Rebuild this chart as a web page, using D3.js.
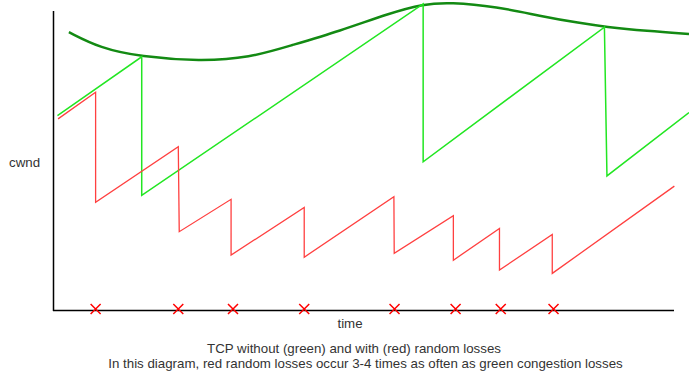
<!DOCTYPE html>
<html>
<head>
	<meta charset="utf-8">
	<title>TCP cwnd with random losses</title>
	<script src="https://d3js.org/d3.v7.min.js"></script>
	<style>
		body { margin: 0; background: #fff; }
		text { font-family: 'Liberation Sans', Arial, sans-serif; font-size: 13.3px; fill: #333; }
	</style>
</head>
<body>
	<div class="chart"></div>

	<script type="text/javascript">
		// time 0..100, cwnd 0..100 (arbitrary units)
		var greenTime = [0.7, 13.95, 13.95, 58.2, 58.2, 86.7, 87.1, 100]
		var greenCwnd = [64.8, 84.4, 38.2, 102, 49.4, 94.3, 44.7, 65.8]

		var redTime = [0.8, 6.7, 6.7, 19.7, 19.85, 28.0, 28.0, 39.5, 39.5, 53.6, 53.65, 62.95, 62.95, 70.2, 70.2, 78.5, 78.5, 97.7]
		var redCwnd = [63.7, 72.6, 35.9, 54.4, 26.1, 36.9, 18.3, 34.2, 17.6, 37.8, 18.9, 31.4, 16.6, 27.2, 13.3, 25.2, 12.2, 41.3]

		// random loss events
		var lossTime = [6.7, 19.7, 28.3, 39.5, 53.7, 63.3, 70.4, 78.7]

		// envelope of the green congestion peaks
		var envTime = [2.5, 7.4, 13.8, 23.1, 31.0, 37.3, 45.1, 53.0, 58.2, 62.4, 69.8, 76.6, 82.9, 86.8, 93.4, 100]
		var envCwnd = [92.6, 87.3, 84.4, 82.9, 84.1, 88.1, 93.0, 99.0, 102, 102.6, 101.1, 98, 95.6, 94.4, 93, 92]

		var captions = [
			'TCP without (green) and with (red) random losses',
			'In this diagram, red random losses occur 3-4 times as often as green congestion losses'
		]

		var width = 689
		var height = 378

		var svg = d3.select('.chart')
			.append('svg')
			.attr('width', width)
			.attr('height', height)

		var x = d3.scaleLinear().domain([0, 100]).range([53, 689])
		var y = d3.scaleLinear().domain([0, 100]).range([310, 10])

		var line = d3.line()
			.x((d) => x(d[0]))
			.y((d) => y(d[1]))

		var curve = d3.line()
			.x((d) => x(d[0]))
			.y((d) => y(d[1]))
			.curve(d3.curveBasis)

		// axes
		svg.append('line')
			.attr('x1', 53.5).attr('x2', 53.5)
			.attr('y1', 11).attr('y2', 311)
			.attr('stroke', '#000').attr('stroke-width', 1.5)
		svg.append('line')
			.attr('x1', 53).attr('x2', 674)
			.attr('y1', 310.5).attr('y2', 310.5)
			.attr('stroke', '#000').attr('stroke-width', 1.5)

		// envelope curve
		svg.append('path')
			.attr('fill', 'none')
			.attr('stroke', '#138a13')
			.attr('stroke-width', 2.5)
			.attr('d', curve(d3.zip(envTime, envCwnd)))

		// green sawtooth
		svg.append('path')
			.attr('fill', 'none')
			.attr('stroke', '#22e622')
			.attr('stroke-width', 1.5)
			.attr('d', line(d3.zip(greenTime, greenCwnd)))

		// red sawtooth
		svg.append('path')
			.attr('fill', 'none')
			.attr('stroke', '#ff4040')
			.attr('stroke-width', 1.3)
			.attr('d', line(d3.zip(redTime, redCwnd)))

		// loss marks
		var s = 5
		svg.selectAll('.loss')
			.data(lossTime)
			.enter()
			.append('path')
			.attr('class', 'loss')
			.attr('fill', 'none')
			.attr('stroke', '#ff0000')
			.attr('stroke-width', 1.5)
			.attr('d', (d) => {
				var cx = x(d), cy = y(0) - 1
				return `M${cx - s},${cy - s}L${cx + s},${cy + s}M${cx - s},${cy + s}L${cx + s},${cy - s}`
			})

		// labels
		svg.append('text').attr('x', 9).attr('y', 167).text('cwnd')
		svg.append('text').attr('x', 350).attr('y', 328).attr('text-anchor', 'middle').text('time')
		svg.append('text').attr('x', 354).attr('y', 353).attr('text-anchor', 'middle').text(captions[0])
		svg.append('text').attr('x', 365.5).attr('y', 368).attr('text-anchor', 'middle').text(captions[1])
	</script>
</body>
</html>
